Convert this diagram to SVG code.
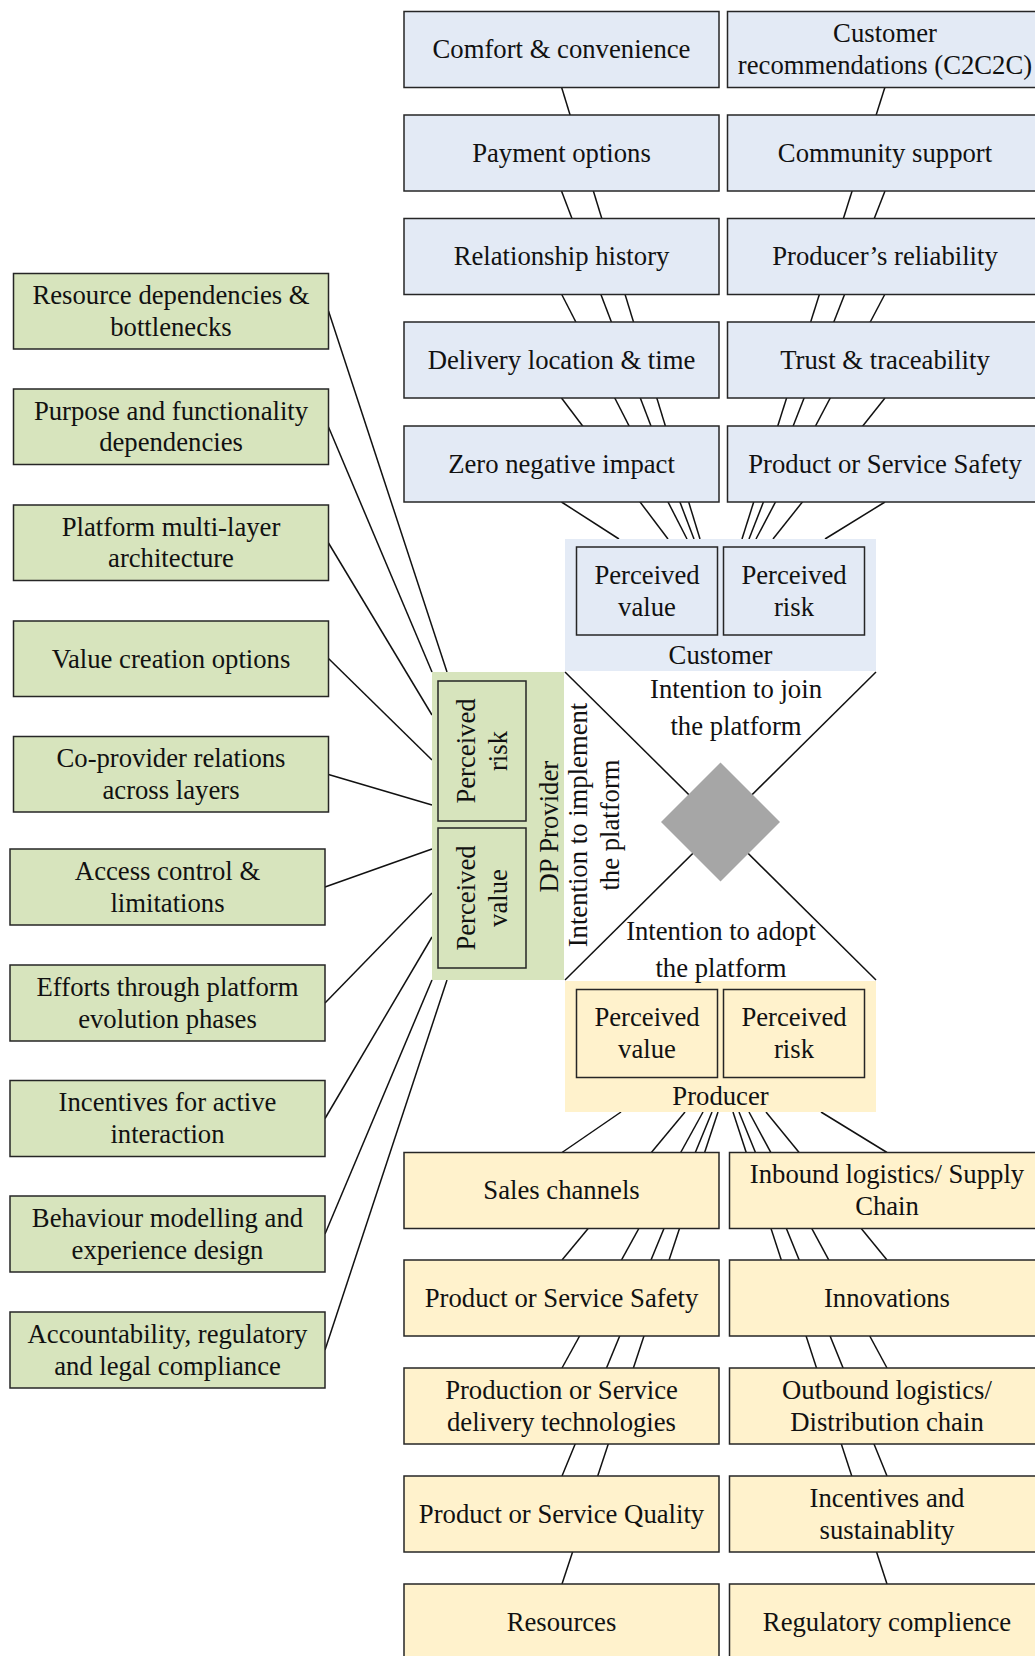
<svg xmlns="http://www.w3.org/2000/svg" width="1035" height="1656" viewBox="0 0 1035 1656">
<style>
.bl{fill:#E3EAF5;stroke:#262626;stroke-width:1.5}
.ye{fill:#FFF2CC;stroke:#262626;stroke-width:1.5}
.gr{fill:#D7E4BD;stroke:#262626;stroke-width:1.5}
.gbl{fill:#E4EBF6}
.gye{fill:#FFF2CC}
.ggr{fill:#D7E4BD}
.dia{fill:#A6A6A6}
.t{font-family:"Liberation Serif","Times New Roman",serif;font-size:26.7px;text-anchor:middle;fill:#111}
.c line{stroke:#111;stroke-width:1.5}
</style>
<rect width="1035" height="1656" fill="#fff"/>
<g id="connectors" class="c">
<line x1="561.5" y1="87" x2="700" y2="539"/>
<line x1="561.5" y1="191" x2="694" y2="539"/>
<line x1="561.5" y1="294" x2="687" y2="539"/>
<line x1="561.5" y1="398" x2="668" y2="539"/>
<line x1="561.5" y1="502" x2="619" y2="539"/>
<line x1="885" y1="87" x2="742" y2="539"/>
<line x1="885" y1="191" x2="749" y2="539"/>
<line x1="885" y1="294" x2="756" y2="539"/>
<line x1="885" y1="398" x2="773" y2="539"/>
<line x1="885" y1="502" x2="825" y2="539"/>
<line x1="621" y1="1112" x2="562" y2="1152.5"/>
<line x1="685" y1="1112" x2="562" y2="1260"/>
<line x1="703" y1="1112" x2="562" y2="1368"/>
<line x1="712" y1="1112" x2="562" y2="1476"/>
<line x1="718" y1="1112" x2="562" y2="1584"/>
<line x1="821" y1="1112" x2="887" y2="1152.5"/>
<line x1="766" y1="1112" x2="887" y2="1260"/>
<line x1="749" y1="1112" x2="887" y2="1368"/>
<line x1="739" y1="1112" x2="887" y2="1476"/>
<line x1="733" y1="1112" x2="887" y2="1584"/>
<line x1="328.5" y1="311" x2="447" y2="672"/>
<line x1="328.5" y1="427" x2="432" y2="672"/>
<line x1="328.5" y1="543" x2="432" y2="715"/>
<line x1="328.5" y1="658.5" x2="432" y2="760"/>
<line x1="328.5" y1="774.5" x2="432" y2="805"/>
<line x1="325" y1="887" x2="432" y2="849"/>
<line x1="325" y1="1003" x2="432" y2="893"/>
<line x1="325" y1="1118.5" x2="432" y2="937"/>
<line x1="325" y1="1234" x2="432" y2="980"/>
<line x1="325" y1="1350" x2="447" y2="980"/>
<line x1="565" y1="672" x2="876" y2="980"/>
<line x1="876" y1="672" x2="565" y2="980"/>
</g>
<g id="customer-group">
<rect class="gbl" x="565" y="539" width="311" height="132"/>
<rect class="bl" x="576.5" y="547" width="141" height="88"/>
<text class="t" x="647" y="583.9">Perceived<tspan x="647" y="615.6">value</tspan></text>
<rect class="bl" x="723.5" y="547" width="141" height="88"/>
<text class="t" x="794" y="583.9">Perceived<tspan x="794" y="615.6">risk</tspan></text>
<text class="t" x="720.5" y="663.5">Customer</text>
</g>
<g id="producer-group">
<rect class="gye" x="565" y="981" width="311" height="131"/>
<rect class="ye" x="576.5" y="989.5" width="141" height="88"/>
<text class="t" x="647" y="1026.4">Perceived<tspan x="647" y="1058.1">value</tspan></text>
<rect class="ye" x="723.5" y="989.5" width="141" height="88"/>
<text class="t" x="794" y="1026.4">Perceived<tspan x="794" y="1058.1">risk</tspan></text>
<text class="t" x="720.5" y="1104.8">Producer</text>
</g>
<g id="dp-provider-group">
<rect class="ggr" x="432" y="672" width="132" height="308"/>
<rect class="gr" x="438" y="681" width="88" height="140"/>
<text class="t" transform="rotate(-90 482 751)" x="482" y="743.9">Perceived<tspan x="482" y="775.6">risk</tspan></text>
<rect class="gr" x="438" y="828" width="88" height="140"/>
<text class="t" transform="rotate(-90 482 898)" x="482" y="890.9">Perceived<tspan x="482" y="922.6">value</tspan></text>
<text class="t" transform="rotate(-90 549.5 826.7)" x="549.5" y="835.5">DP Provider</text>
</g>
<g id="intention-implement">
<text class="t" transform="rotate(-90 594.6 825)" x="594.6" y="817.9">Intention to implement<tspan x="594.6" y="849.6">the platform</tspan></text>
</g>
<g id="platform-diamond">
<polygon class="dia" points="720.5,762.5 780,822 720.5,881.5 661,822"/>
</g>
<g id="intention-join">
<text class="t" x="736" y="698.3">Intention to join<tspan x="736" y="735">the platform</tspan></text>
</g>
<g id="intention-adopt">
<text class="t" x="721" y="940">Intention to adopt<tspan x="721" y="976.7">the platform</tspan></text>
</g>
<g id="c-comfort"><rect class="bl" x="404" y="11.5" width="315" height="76"/><text class="t" x="561.5" y="58.3">Comfort &amp; convenience</text></g>
<g id="c-payment"><rect class="bl" x="404" y="115" width="315" height="76"/><text class="t" x="561.5" y="161.8">Payment options</text></g>
<g id="c-relationship"><rect class="bl" x="404" y="218.5" width="315" height="76"/><text class="t" x="561.5" y="265.3">Relationship history</text></g>
<g id="c-delivery"><rect class="bl" x="404" y="322" width="315" height="76"/><text class="t" x="561.5" y="368.8">Delivery location &amp; time</text></g>
<g id="c-zero"><rect class="bl" x="404" y="426" width="315" height="76"/><text class="t" x="561.5" y="472.8">Zero negative impact</text></g>
<g id="c-recommendations"><rect class="bl" x="727.5" y="11.5" width="315" height="76"/><text class="t" x="885" y="42.4">Customer<tspan x="885" y="74.1">recommendations (C2C2C)</tspan></text></g>
<g id="c-community"><rect class="bl" x="727.5" y="115" width="315" height="76"/><text class="t" x="885" y="161.8">Community support</text></g>
<g id="c-reliability"><rect class="bl" x="727.5" y="218.5" width="315" height="76"/><text class="t" x="885" y="265.3">Producer’s reliability</text></g>
<g id="c-trust"><rect class="bl" x="727.5" y="322" width="315" height="76"/><text class="t" x="885" y="368.8">Trust &amp; traceability</text></g>
<g id="c-safety"><rect class="bl" x="727.5" y="426" width="315" height="76"/><text class="t" x="885" y="472.8">Product or Service Safety</text></g>
<g id="p-sales"><rect class="ye" x="404" y="1152.5" width="315" height="76"/><text class="t" x="561.5" y="1199.3">Sales channels</text></g>
<g id="p-safety"><rect class="ye" x="404" y="1260" width="315" height="76"/><text class="t" x="561.5" y="1306.8">Product or Service Safety</text></g>
<g id="p-production"><rect class="ye" x="404" y="1368" width="315" height="76"/><text class="t" x="561.5" y="1398.9">Production or Service<tspan x="561.5" y="1430.6">delivery technologies</tspan></text></g>
<g id="p-quality"><rect class="ye" x="404" y="1476" width="315" height="76"/><text class="t" x="561.5" y="1522.8">Product or Service Quality</text></g>
<g id="p-resources"><rect class="ye" x="404" y="1584" width="315" height="76"/><text class="t" x="561.5" y="1630.8">Resources</text></g>
<g id="p-inbound"><rect class="ye" x="729.5" y="1152.5" width="315" height="76"/><text class="t" x="887" y="1183.4">Inbound logistics/ Supply<tspan x="887" y="1215.1">Chain</tspan></text></g>
<g id="p-innovations"><rect class="ye" x="729.5" y="1260" width="315" height="76"/><text class="t" x="887" y="1306.8">Innovations</text></g>
<g id="p-outbound"><rect class="ye" x="729.5" y="1368" width="315" height="76"/><text class="t" x="887" y="1398.9">Outbound logistics/<tspan x="887" y="1430.6">Distribution chain</tspan></text></g>
<g id="p-incentives"><rect class="ye" x="729.5" y="1476" width="315" height="76"/><text class="t" x="887" y="1506.9">Incentives and<tspan x="887" y="1538.6">sustainablity</tspan></text></g>
<g id="p-regulatory"><rect class="ye" x="729.5" y="1584" width="315" height="76"/><text class="t" x="887" y="1630.8">Regulatory complience</text></g>
<g id="d-resource"><rect class="gr" x="13.5" y="273.5" width="315" height="75.5"/><text class="t" x="171" y="304.2">Resource dependencies &amp;<tspan x="171" y="335.9">bottlenecks</tspan></text></g>
<g id="d-purpose"><rect class="gr" x="13.5" y="389" width="315" height="75.5"/><text class="t" x="171" y="419.7">Purpose and functionality<tspan x="171" y="451.4">dependencies</tspan></text></g>
<g id="d-platform"><rect class="gr" x="13.5" y="505" width="315" height="75.5"/><text class="t" x="171" y="535.7">Platform multi-layer<tspan x="171" y="567.4">architecture</tspan></text></g>
<g id="d-value"><rect class="gr" x="13.5" y="621" width="315" height="75.5"/><text class="t" x="171" y="667.5">Value creation options</text></g>
<g id="d-coprovider"><rect class="gr" x="13.5" y="736.5" width="315" height="75.5"/><text class="t" x="171" y="767.2">Co-provider relations<tspan x="171" y="798.9">across layers</tspan></text></g>
<g id="d-access"><rect class="gr" x="10" y="849" width="315" height="76"/><text class="t" x="167.5" y="879.9">Access control &amp;<tspan x="167.5" y="911.6">limitations</tspan></text></g>
<g id="d-efforts"><rect class="gr" x="10" y="965" width="315" height="76"/><text class="t" x="167.5" y="995.9">Efforts through platform<tspan x="167.5" y="1027.6">evolution phases</tspan></text></g>
<g id="d-incentives"><rect class="gr" x="10" y="1080.5" width="315" height="76"/><text class="t" x="167.5" y="1111.4">Incentives for active<tspan x="167.5" y="1143.1">interaction</tspan></text></g>
<g id="d-behaviour"><rect class="gr" x="10" y="1196" width="315" height="76"/><text class="t" x="167.5" y="1226.9">Behaviour modelling and<tspan x="167.5" y="1258.6">experience design</tspan></text></g>
<g id="d-accountability"><rect class="gr" x="10" y="1312" width="315" height="76"/><text class="t" x="167.5" y="1342.9">Accountability, regulatory<tspan x="167.5" y="1374.6">and legal compliance</tspan></text></g>
</svg>
